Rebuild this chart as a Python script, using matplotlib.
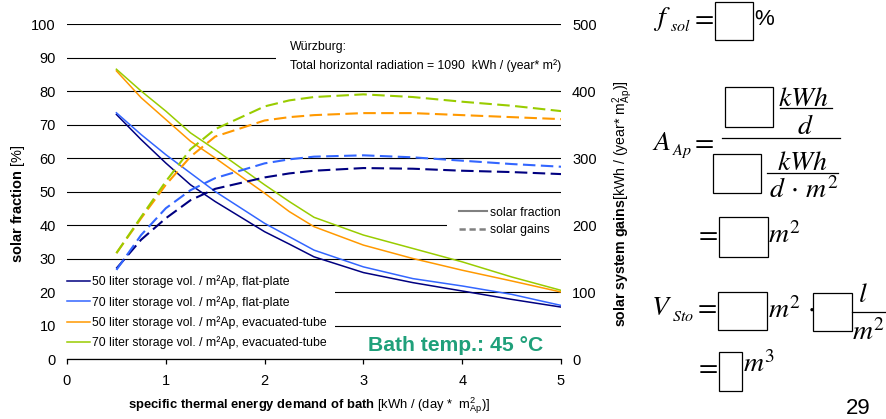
import matplotlib
matplotlib.use("Agg")
import matplotlib.pyplot as plt
from matplotlib.patches import Rectangle
from matplotlib.lines import Line2D

plt.rcParams['font.family'] = ['Liberation Sans', 'DejaVu Sans']
plt.rcParams['mathtext.fontset'] = 'custom'
plt.rcParams['mathtext.rm'] = 'Liberation Sans'
plt.rcParams['mathtext.it'] = 'Liberation Sans:italic'
plt.rcParams['mathtext.bf'] = 'Liberation Sans:bold'

# ---------------- data ----------------
demand = [0.5, 0.75, 1.0, 1.25, 1.5, 2.0, 2.25, 2.5, 3.0, 3.5, 4.0, 4.5, 5.0]

frac_50_fp = [73, 65.5, 58.5, 52, 47, 38, 34.3, 30.5, 25.8, 22.8, 20.3, 17.8, 15.5]
frac_70_fp = [73.5, 67, 61, 55.5, 50, 40.5, 36.5, 32.5, 27.5, 24, 21.8, 19.3, 16]
frac_50_et = [86, 78, 71.5, 65, 60, 49.5, 44, 39.5, 34, 30, 26.5, 23.3, 20]
frac_70_et = [86.5, 80, 74, 67.5, 62.5, 52, 47, 42.3, 37, 33, 29, 24.5, 20.5]

gain_50_fp = [135, 178, 210, 237, 254, 271, 277, 281, 285, 284, 281, 279, 276]
gain_70_fp = [133, 185, 225, 252, 270, 292, 298, 302, 304, 301, 296, 291, 287]
gain_50_et = [158, 210, 260, 302, 332, 356, 361, 364, 367, 367, 364, 361, 358]
gain_70_et = [158, 212, 265, 313, 343, 377, 386, 391, 395, 391, 384, 378, 370]

series_labels = ["50 liter storage vol. / m²Ap, flat-plate",
                 "70 liter storage vol. / m²Ap, flat-plate",
                 "50 liter storage vol. / m²Ap, evacuated-tube",
                 "70 liter storage vol. / m²Ap, evacuated-tube"]
series_colors = ["#000080", "#3366FF", "#FF9900", "#99CC00"]

x_ticks = [0, 1, 2, 3, 4, 5]
y_ticks_left = [0, 10, 20, 30, 40, 50, 60, 70, 80, 90, 100]
y_ticks_right = [0, 100, 200, 300, 400, 500]

# ---------------- figure ----------------
W, H = 887, 419
fig = plt.figure(figsize=(W / 100, H / 100), dpi=100)
ax = fig.add_axes([67 / W, 1 - 359 / H, (561 - 67) / W, (359 - 24) / H])
ax2 = ax.twinx()

ax.set_xlim(0, 5)
ax.set_ylim(0, 100)
ax2.set_ylim(0, 500)
ax.set_xticks(x_ticks)
ax.set_yticks(y_ticks_left)
ax2.set_yticks(y_ticks_right)

for s in ['left', 'right', 'top']:
    ax.spines[s].set_visible(False)
for s in ax2.spines.values():
    s.set_visible(False)
ax.spines['bottom'].set_linewidth(0.9)
ax.tick_params(axis='x', direction='out', length=3.5, width=0.9, pad=7, labelsize=10.5)
ax.tick_params(axis='y', length=0, pad=8, labelsize=10.5)
ax2.tick_params(axis='y', length=0, pad=8, labelsize=10.5)

ax.set_axisbelow(True)
ax.yaxis.grid(True, color='black', linewidth=0.8)
ax.xaxis.grid(False)

# white boxes behind text blocks (hide grid)
for (x0, y0, x1, y1) in [((0.0), (359 - 350) / 335, (335 - 67) / 494, (359 - 270) / 335),
                         ((447 - 67) / 494, (359 - 241) / 335, 1.0, (359 - 204) / 335),
                         ((276 - 67) / 494, (359 - 80) / 335, 1.0, (359 - 36) / 335)]:
    ax.add_patch(Rectangle((x0, y0), x1 - x0, y1 - y0, transform=ax.transAxes,
                           facecolor='white', edgecolor='none', zorder=1))

fracs = [frac_50_fp, frac_70_fp, frac_50_et, frac_70_et]
gains = [gain_50_fp, gain_70_fp, gain_50_et, gain_70_et]
handles = []
for f, c, lab in zip(fracs, series_colors, series_labels):
    h, = ax.plot(demand, f, color=c, lw=1.1, zorder=2, label=lab)
    handles.append(h)
for g, c in zip(gains, series_colors):
    ax2.plot(demand, g, color=c, lw=1.5, dashes=(6, 2.6), zorder=2)

LFS = 8.8
leg1 = ax2.legend(handles=handles, loc='lower left', bbox_to_anchor=(0.0, 0.03),
                  frameon=False, fontsize=LFS, handlelength=1.9, handletextpad=0.15,
                  labelspacing=0.6, borderpad=0, borderaxespad=0)
ax2.add_artist(leg1)
h_sf = Line2D([], [], color='#808080', lw=1.5)
h_sg = Line2D([], [], color='#808080', lw=1.8, dashes=(2.5, 1.5))
ax2.legend(handles=[h_sf, h_sg], labels=['solar fraction', 'solar gains'],
           loc='upper right', bbox_to_anchor=(1.0, (359 - 206.5) / 335), frameon=False,
           fontsize=LFS, handlelength=2.3, handletextpad=0.3, labelspacing=0.45,
           borderpad=0, borderaxespad=0)

ax2.text((290 - 67) / 494, (359 - 47) / 335, "Würzburg:", transform=ax2.transAxes,
         fontsize=LFS, va='center', ha='left')
ax2.text((290 - 67) / 494, (359 - 66) / 335,
         "Total horizontal radiation = 1090  kWh / (year* m²)", transform=ax2.transAxes,
         fontsize=LFS, va='center', ha='left')
ax2.text((368 - 67) / 494, (359 - 351) / 335, "Bath temp.: 45 °C", transform=ax2.transAxes,
         fontsize=15.2, fontweight='bold', color='#1fa07a', va='baseline', ha='left')

# axis labels
fig.text(18 / W, 1 - 204 / H, r"$\mathbf{solar\ fraction}$ [%]", rotation=90,
         ha='center', va='center', fontsize=10.5)
fig.text(623 / W, 1 - 204 / H,
         r"$\mathbf{solar\ system\ gains}$[kWh / (year* m$^{2}_{\mathrm{Ap}}$)]",
         rotation=90, ha='center', va='center', fontsize=10.2)
fig.text(309 / W, 1 - 406 / H,
         r"$\mathbf{specific\ thermal\ energy\ demand\ of\ bath}$ [kWh / (day *  m$^{2}_{\mathrm{Ap}}$)]",
         ha='center', va='center', fontsize=9.4)

# ---------------- formulas on the right ----------------
FS = 20
SUB = 11.5
def T(x, y, s, **kw):
    kw.setdefault('math_fontfamily', 'stix')
    kw.setdefault('fontsize', FS)
    kw.setdefault('va', 'baseline')
    kw.setdefault('ha', 'left')
    fig.text(x / W, 1 - y / H, s, **kw)

def B(x0, y0, x1, y1):
    fig.add_artist(Rectangle((x0 / W, 1 - y1 / H), (x1 - x0) / W, (y1 - y0) / H,
                             transform=fig.transFigure, fill=False, lw=0.9, ec='black'))

def L(x0, x1, y):
    fig.add_artist(Line2D([x0 / W, x1 / W], [1 - y / H, 1 - y / H],
                          transform=fig.transFigure, color='black', lw=0.9))

# f_sol = [ ] %
T(653, 25, r"$f$")
T(670, 31, r"$sol$", fontsize=SUB)
T(714, 25, r"$=$", ha='right')
B(715, 2, 753, 40)
T(754, 25, "%", fontsize=16)

# A_Ap = [ ] kWh/d / [ ] kWh/(d m2)
T(652, 150, r"$A$")
T(672, 155, r"$Ap$", fontsize=SUB)
T(714, 149, r"$=$", ha='right')
L(722, 840, 138.5)
B(725, 87, 773, 127)
T(778, 106, r"$kWh$")
L(780, 832, 107.5)
T(797, 134, r"$d$")
B(713, 154, 761, 193)
T(777, 170, r"$kWh$")
L(767, 838, 172.5)
T(769, 198, r"$d\,\cdot\,m^{2}$")

# = [ ] m2
T(718, 241, r"$=$", ha='right')
B(719, 217, 768, 257)
T(768, 243, r"$m^{2}$")

# V_Sto = [ ] m2 . [ ] l/m2
T(651, 315, r"$V$")
T(672, 321, r"$Sto$", fontsize=SUB)
T(717, 314, r"$=$", ha='right')
B(718, 292, 767, 330)
T(768, 318, r"$m^{2}\,\cdot$")
B(813, 293, 852, 331)
T(858, 302, r"$l$")
L(852, 887, 312)
T(852, 340, r"$m^{2}$")

# = [ ] m3
T(718, 374, r"$=$", ha='right')
B(719, 352, 742, 391)
T(743, 372, r"$m^{3}$")

fig.text(846 / W, 1 - 414 / H, "29", fontsize=16, ha='left', va='baseline')

fig.savefig("out.png", dpi=100)
